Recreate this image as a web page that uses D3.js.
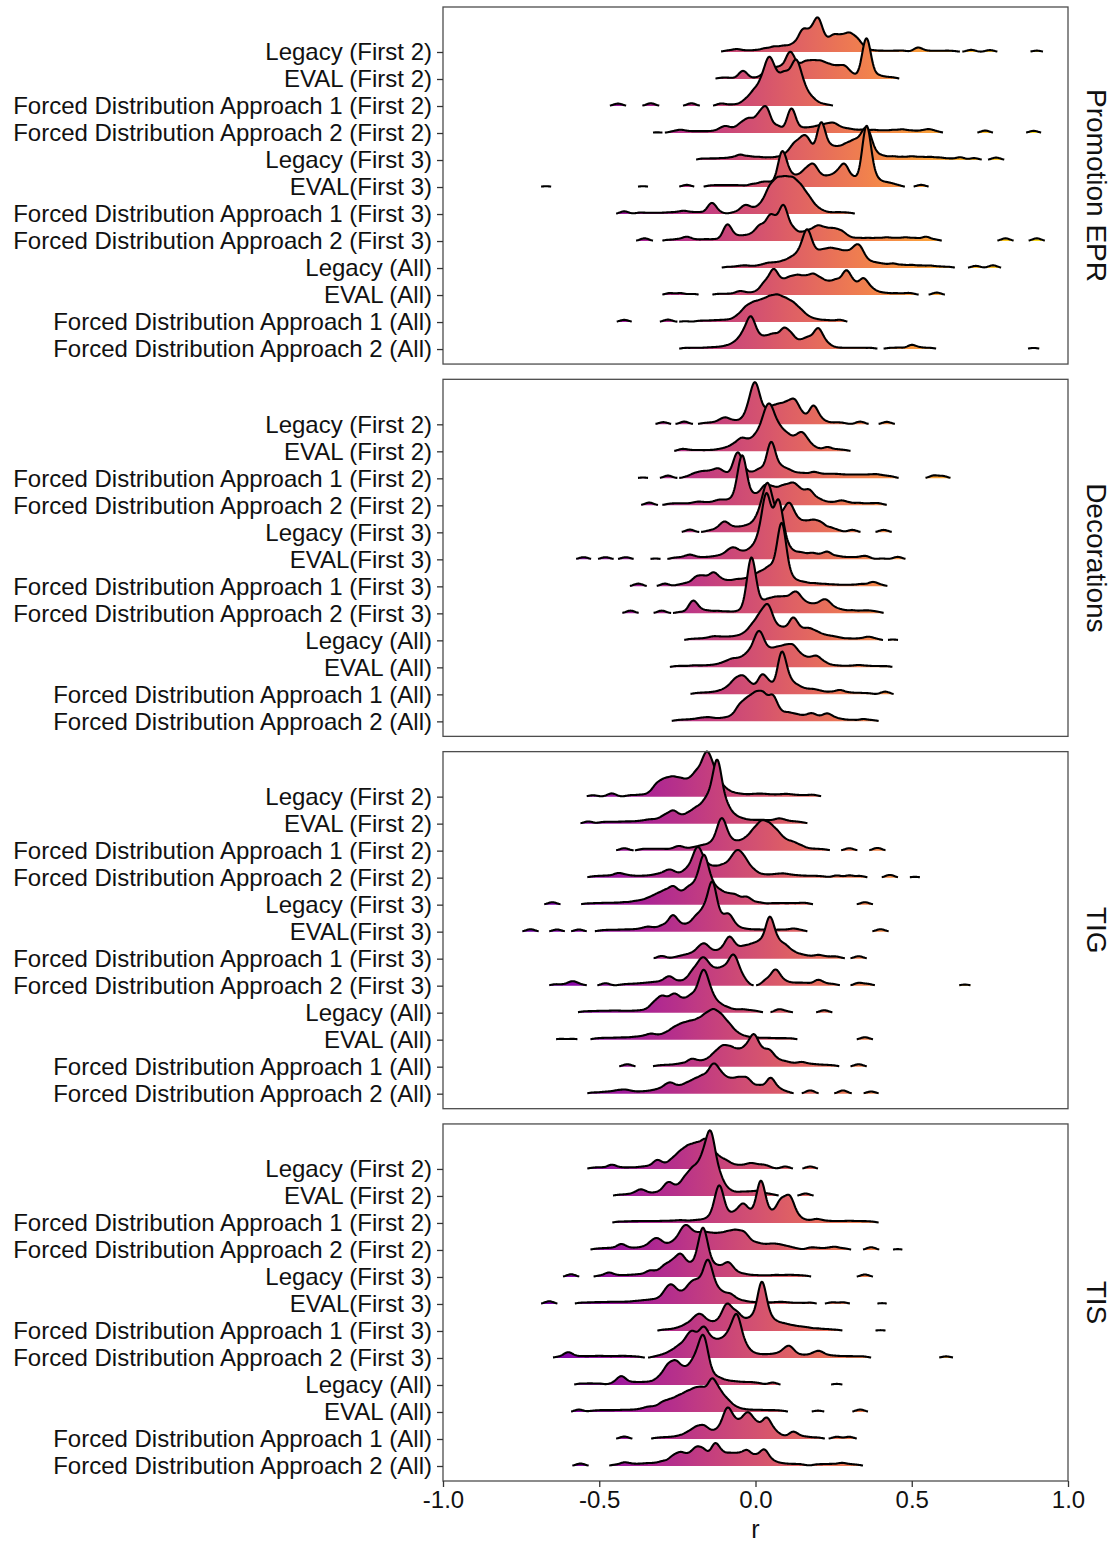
<!DOCTYPE html>
<html>
<head>
<meta charset="utf-8">
<script src="https://cdn.jsdelivr.net/npm/d3@7"></script>
<style>
  body { margin: 0; background: #fff; }
  text { font-family: "Liberation Sans", Arial, sans-serif; }
</style>
</head>
<body>
<svg id="chart"></svg>
<script>

// row labels (top to bottom inside every panel)
var groups = [
    "Legacy (First 2)", "EVAL (First 2)",
    "Forced Distribution Approach 1 (First 2)", "Forced Distribution Approach 2 (First 2)",
    "Legacy (First 3)", "EVAL(First 3)",
    "Forced Distribution Approach 1 (First 3)", "Forced Distribution Approach 2 (First 3)",
    "Legacy (All)", "EVAL (All)",
    "Forced Distribution Approach 1 (All)", "Forced Distribution Approach 2 (All)"
];
var outcomes = ["Promotion EPR", "Decorations", "TIG", "TIS"];
var xTicks = [-1.0, -0.5, 0.0, 0.5, 1.0];

// correlations r with a weight (how many studies sit there), one list per row
var eprRidges = [
    [[-0.09,.05],[-0.06,.1],[-0.03,.05],[0,.06],[0.03,.12],[0.06,.18],[0.09,.2],[0.12,.25],[0.15,.7],[0.175,.55],[0.2,1.1],[0.225,.3],[0.25,.5],[0.275,.45],[0.3,.55],[0.325,.4],[0.35,.12],[0.38,.05],[0.41,.04],[0.44,.04],[0.47,.05],[0.52,.16],[0.55,.04],[0.58,.04],[0.61,.04],[0.635,.03],[0.69,.08],[0.75,.07],[0.9,.05]],
    [[-0.11,.04],[-0.085,.04],[-0.04,.3],[0,.04],[0.03,.2],[0.055,.3],[0.08,.35],[0.11,.9],[0.135,.35],[0.16,.5],[0.185,.5],[0.21,.5],[0.235,.4],[0.26,.35],[0.285,.4],[0.31,.15],[0.355,1.5],[0.39,.12],[0.415,.06],[0.44,.05]],
    [[-0.44,.09],[-0.335,.1],[-0.205,.1],[-0.11,.09],[-0.08,.04],[-0.055,.05],[-0.03,.2],[-0.005,.45],[0.02,.7],[0.043,1.4],[0.065,.8],[0.09,.9],[0.112,.7],[0.132,1.3],[0.155,.55],[0.18,.25],[0.205,.08],[0.23,.04]],
    [[-0.315,.025],[-0.265,.05],[-0.24,.1],[-0.215,.05],[-0.19,.05],[-0.165,.05],[-0.14,.05],[-0.115,.1],[-0.095,.2],[-0.07,.12],[-0.045,.3],[-0.02,.45],[0.01,.55],[0.035,.85],[0.07,.25],[0.115,.9],[0.15,.15],[0.175,.15],[0.2,.2],[0.225,.25],[0.25,.3],[0.275,.15],[0.3,.12],[0.325,.08],[0.35,.1],[0.38,.1],[0.41,.08],[0.44,.1],[0.47,.12],[0.5,.08],[0.53,.07],[0.555,.12],[0.58,.05],[0.735,.09],[0.89,.08]],
    [[-0.17,.05],[-0.14,.05],[-0.11,.06],[-0.08,.08],[-0.05,.18],[-0.02,.12],[0.01,.1],[0.04,.08],[0.07,.1],[0.1,.2],[0.125,.5],[0.15,.6],[0.17,.55],[0.21,1.35],[0.24,.4],[0.265,.35],[0.29,.45],[0.315,.55],[0.34,.6],[0.36,.9],[0.385,.18],[0.41,.12],[0.44,.12],[0.47,.1],[0.5,.12],[0.53,.1],[0.56,.1],[0.59,.08],[0.62,.05],[0.655,.1],[0.7,.07],[0.77,.09]],
    [[-0.67,.03],[-0.36,.03],[-0.22,.08],[-0.145,.05],[-0.12,.05],[-0.095,.05],[-0.07,.05],[-0.045,.05],[-0.01,.1],[0.02,.15],[0.045,.15],[0.085,1.25],[0.11,.35],[0.135,.3],[0.16,.5],[0.185,.7],[0.21,.3],[0.235,.3],[0.26,.4],[0.285,.75],[0.315,.3],[0.355,2.2],[0.38,.3],[0.405,.15],[0.43,.12],[0.455,.06],[0.53,.08]],
    [[-0.42,.1],[-0.37,.05],[-0.34,.04],[-0.31,.04],[-0.28,.05],[-0.255,.05],[-0.23,.1],[-0.205,.05],[-0.18,.06],[-0.14,.4],[-0.115,.05],[-0.07,.05],[-0.045,.1],[-0.03,.25],[-0.005,.15],[0.02,.3],[0.045,.8],[0.07,1.0],[0.095,1.0],[0.12,1.0],[0.145,.8],[0.17,.5],[0.195,.2],[0.22,.08],[0.25,.05],[0.275,.05],[0.3,.04]],
    [[-0.355,.1],[-0.28,.04],[-0.25,.06],[-0.22,.15],[-0.19,.05],[-0.16,.06],[-0.13,.06],[-0.09,.6],[-0.06,.15],[-0.035,.15],[-0.01,.2],[0.015,.5],[0.045,.75],[0.065,.45],[0.09,1.2],[0.12,.4],[0.15,.25],[0.175,.3],[0.2,.45],[0.225,.35],[0.25,.35],[0.275,.3],[0.3,.12],[0.33,.1],[0.36,.1],[0.39,.1],[0.42,.12],[0.45,.1],[0.48,.12],[0.51,.1],[0.545,.15],[0.575,.05],[0.8,.1],[0.9,.1]],
    [[-0.09,.04],[-0.06,.05],[-0.035,.08],[-0.01,.05],[0.015,.08],[0.04,.15],[0.065,.15],[0.09,.2],[0.115,.3],[0.14,.45],[0.165,1.25],[0.19,.45],[0.215,.5],[0.24,.55],[0.265,.5],[0.29,.45],[0.315,.5],[0.335,.6],[0.36,.2],[0.385,.15],[0.41,.12],[0.44,.15],[0.47,.1],[0.5,.1],[0.53,.08],[0.56,.08],[0.59,.05],[0.62,.04],[0.705,.08],[0.76,.1]],
    [[-0.275,.07],[-0.24,.07],[-0.2,.04],[-0.12,.04],[-0.09,.04],[-0.06,.06],[-0.045,.1],[-0.02,.06],[0.005,.1],[0.03,.4],[0.058,.85],[0.085,.4],[0.11,.5],[0.135,.55],[0.16,.5],[0.185,.6],[0.21,.45],[0.235,.35],[0.26,.45],[0.29,.8],[0.315,.35],[0.345,.55],[0.37,.2],[0.395,.08],[0.42,.06],[0.45,.06],[0.48,.05],[0.5,.05],[0.58,.09]],
    [[-0.42,.08],[-0.28,.09],[-0.225,.03],[-0.18,.04],[-0.155,.04],[-0.13,.05],[-0.105,.06],[-0.08,.07],[-0.055,.2],[-0.03,.45],[-0.005,.55],[0.02,.6],[0.045,.7],[0.07,.75],[0.095,.65],[0.12,.55],[0.145,.35],[0.17,.15],[0.195,.08],[0.22,.05],[0.24,.04],[0.27,.08]],
    [[-0.225,.04],[-0.195,.04],[-0.165,.04],[-0.14,.05],[-0.115,.06],[-0.09,.1],[-0.065,.2],[-0.04,.45],[-0.015,1.05],[0.01,.35],[0.035,.35],[0.06,.45],[0.09,.65],[0.115,.45],[0.145,.25],[0.17,.35],[0.2,.7],[0.225,.2],[0.25,.06],[0.28,.04],[0.31,.04],[0.34,.04],[0.37,.04],[0.43,.04],[0.46,.05],[0.5,.15],[0.53,.05],[0.56,.04],[0.89,.04]]
];

var decorationRidges = [
    [[-0.295,.08],[-0.228,.1],[-0.165,.04],[-0.14,.05],[-0.115,.1],[-0.095,.2],[-0.07,.1],[-0.045,.12],[-0.02,.5],[0,1.3],[0.025,.35],[0.05,.5],[0.075,.55],[0.1,.6],[0.125,.75],[0.15,.3],[0.185,.65],[0.21,.15],[0.235,.05],[0.26,.05],[0.28,.04],[0.335,.1],[0.42,.09]],
    [[-0.235,.08],[-0.21,.04],[-0.18,.04],[-0.15,.04],[-0.12,.06],[-0.095,.1],[-0.07,.2],[-0.045,.4],[-0.02,.3],[0.005,.5],[0.03,1.0],[0.05,1.2],[0.075,.7],[0.1,.5],[0.125,.35],[0.148,.55],[0.17,.25],[0.195,.1],[0.23,.15],[0.26,.06],[0.285,.04]],
    [[-0.36,.03],[-0.28,.1],[-0.22,.05],[-0.195,.15],[-0.17,.2],[-0.145,.2],[-0.12,.3],[-0.095,.15],[-0.058,.9],[-0.035,.2],[-0.01,.15],[0.015,.3],[0.05,1.3],[0.08,.35],[0.105,.25],[0.13,.15],[0.155,.15],[0.185,.2],[0.21,.12],[0.235,.12],[0.26,.12],[0.285,.1],[0.31,.1],[0.335,.1],[0.36,.1],[0.385,.12],[0.41,.08],[0.435,.06],[0.57,.1],[0.6,.08]],
    [[-0.34,.1],[-0.276,.05],[-0.25,.06],[-0.225,.05],[-0.2,.06],[-0.18,.1],[-0.155,.08],[-0.13,.1],[-0.11,.15],[-0.085,.15],[-0.06,.25],[-0.042,1.7],[-0.015,.25],[0.005,.25],[0.03,.6],[0.055,.5],[0.08,.45],[0.1,.45],[0.122,.6],[0.145,.4],[0.172,.5],[0.2,.2],[0.225,.1],[0.25,.08],[0.275,.15],[0.3,.08],[0.33,.08],[0.36,.06],[0.385,.05],[0.4,.04]],
    [[-0.21,.1],[-0.15,.05],[-0.125,.1],[-0.1,.35],[-0.075,.15],[-0.05,.15],[-0.025,.2],[0,.3],[0.02,.6],[0.04,1.5],[0.065,.5],[0.09,.45],[0.11,.85],[0.135,.35],[0.16,.3],[0.185,.35],[0.21,.3],[0.24,.15],[0.265,.06],[0.31,.09],[0.41,.09]],
    [[-0.55,.08],[-0.48,.08],[-0.415,.08],[-0.32,.03],[-0.26,.05],[-0.235,.06],[-0.21,.15],[-0.185,.06],[-0.16,.06],[-0.135,.08],[-0.11,.12],[-0.085,.25],[-0.065,.3],[-0.04,.2],[-0.015,.3],[0.01,.6],[0.035,2.2],[0.06,.5],[0.075,1.8],[0.1,.4],[0.125,.2],[0.15,.2],[0.18,.2],[0.205,.12],[0.23,.25],[0.26,.1],[0.285,.06],[0.31,.06],[0.335,.06],[0.355,.1],[0.405,.03],[0.455,.09]],
    [[-0.375,.1],[-0.29,.1],[-0.245,.05],[-0.22,.1],[-0.19,.3],[-0.165,.3],[-0.135,.45],[-0.11,.2],[-0.085,.15],[-0.06,.2],[-0.035,.2],[-0.01,.3],[0.015,.4],[0.04,.5],[0.06,.4],[0.084,2.2],[0.11,.3],[0.135,.15],[0.16,.12],[0.19,.1],[0.22,.08],[0.25,.06],[0.28,.05],[0.31,.05],[0.34,.08],[0.375,.15],[0.4,.05]],
    [[-0.4,.1],[-0.3,.1],[-0.24,.05],[-0.2,.45],[-0.175,.1],[-0.15,.08],[-0.12,.08],[-0.09,.06],[-0.06,.06],[-0.035,.1],[-0.013,2.0],[0.015,.3],[0.04,.4],[0.065,.45],[0.09,.45],[0.115,.45],[0.135,.55],[0.16,.3],[0.185,.25],[0.21,.3],[0.23,.35],[0.255,.15],[0.28,.1],[0.31,.1],[0.34,.08],[0.365,.08],[0.39,.05]],
    [[-0.21,.04],[-0.185,.05],[-0.16,.06],[-0.135,.12],[-0.11,.1],[-0.085,.1],[-0.06,.12],[-0.035,.2],[-0.01,.45],[0.015,.75],[0.04,1.1],[0.065,.4],[0.09,.35],[0.12,.75],[0.145,.3],[0.17,.35],[0.195,.25],[0.22,.15],[0.245,.12],[0.27,.08],[0.3,.06],[0.33,.06],[0.36,.12],[0.385,.05],[0.44,.03]],
    [[-0.255,.04],[-0.23,.04],[-0.2,.06],[-0.175,.05],[-0.15,.06],[-0.125,.08],[-0.1,.15],[-0.075,.25],[-0.05,.25],[-0.025,.4],[0,.7],[0.018,.9],[0.045,.5],[0.07,.55],[0.095,.6],[0.12,.65],[0.145,.35],[0.17,.25],[0.195,.35],[0.22,.15],[0.245,.06],[0.27,.05],[0.3,.05],[0.33,.08],[0.36,.05],[0.39,.04],[0.42,.04]],
    [[-0.19,.04],[-0.165,.05],[-0.14,.06],[-0.115,.1],[-0.09,.2],[-0.065,.45],[-0.04,.55],[-0.015,.3],[0.02,.65],[0.045,.35],[0.084,1.5],[0.11,.4],[0.135,.25],[0.16,.15],[0.185,.15],[0.21,.1],[0.24,.08],[0.27,.15],[0.3,.06],[0.33,.05],[0.36,.04],[0.415,.1]],
    [[-0.25,.04],[-0.225,.05],[-0.2,.06],[-0.175,.1],[-0.15,.12],[-0.125,.08],[-0.1,.1],[-0.075,.15],[-0.05,.5],[-0.025,.65],[0,.8],[0.025,.85],[0.055,.85],[0.08,.25],[0.105,.25],[0.13,.2],[0.155,.15],[0.18,.25],[0.205,.12],[0.23,.25],[0.255,.1],[0.28,.06],[0.31,.05],[0.345,.08],[0.375,.04]]
];

var tigRidges = [
    [[-0.52,.05],[-0.46,.12],[-0.4,.05],[-0.37,.06],[-0.34,.1],[-0.315,.4],[-0.29,.5],[-0.265,.55],[-0.24,.5],[-0.215,.45],[-0.19,.7],[-0.165,.9],[-0.148,1.0],[-0.125,.6],[-0.1,.25],[-0.075,.12],[-0.05,.08],[-0.025,.06],[0,.08],[0.025,.08],[0.05,.06],[0.075,.06],[0.1,.08],[0.125,.05],[0.15,.04],[0.175,.04],[0.19,.04]],
    [[-0.535,.08],[-0.49,.05],[-0.465,.05],[-0.44,.05],[-0.415,.06],[-0.39,.06],[-0.365,.08],[-0.34,.12],[-0.315,.12],[-0.29,.25],[-0.264,.4],[-0.24,.2],[-0.215,.3],[-0.19,.45],[-0.165,.55],[-0.145,.65],[-0.122,2.1],[-0.095,.6],[-0.07,.25],[-0.045,.15],[-0.02,.1],[0.005,.1],[0.03,.1],[0.055,.08],[0.077,.15],[0.1,.08],[0.125,.06],[0.148,.04]],
    [[-0.42,.09],[-0.36,.06],[-0.33,.06],[-0.3,.06],[-0.27,.05],[-0.245,.15],[-0.22,.06],[-0.195,.1],[-0.17,.15],[-0.145,.2],[-0.12,.4],[-0.105,.9],[-0.08,.3],[-0.055,.25],[-0.03,.35],[-0.005,.6],[0.02,.85],[0.045,.75],[0.07,.55],[0.095,.3],[0.12,.25],[0.145,.15],[0.17,.06],[0.195,.05],[0.22,.04],[0.3,.09],[0.39,.1]],
    [[-0.52,.04],[-0.495,.05],[-0.47,.06],[-0.44,.15],[-0.415,.08],[-0.39,.05],[-0.365,.05],[-0.34,.06],[-0.315,.1],[-0.29,.15],[-0.27,.22],[-0.245,.1],[-0.22,.25],[-0.195,.5],[-0.18,.75],[-0.155,.35],[-0.13,.3],[-0.105,.35],[-0.08,.45],[-0.058,.75],[-0.035,.55],[-0.01,.25],[0.015,.1],[0.04,.08],[0.065,.1],[0.09,.12],[0.115,.08],[0.14,.06],[0.165,.05],[0.19,.05],[0.215,.04],[0.26,.08],[0.3,.08],[0.335,.06],[0.43,.1],[0.51,.03]],
    [[-0.65,.09],[-0.54,.04],[-0.51,.05],[-0.48,.06],[-0.45,.06],[-0.42,.08],[-0.39,.1],[-0.365,.12],[-0.34,.2],[-0.315,.3],[-0.29,.4],[-0.264,.55],[-0.24,.3],[-0.215,.5],[-0.19,.6],[-0.165,1.6],[-0.14,.6],[-0.115,.4],[-0.09,.3],[-0.065,.3],[-0.04,.12],[-0.025,.2],[0,.06],[0.02,.05],[0.055,.05],[0.085,.05],[0.115,.05],[0.145,.05],[0.165,.04],[0.35,.09]],
    [[-0.72,.09],[-0.635,.08],[-0.565,.08],[-0.495,.04],[-0.47,.05],[-0.445,.05],[-0.42,.06],[-0.395,.06],[-0.37,.08],[-0.345,.15],[-0.32,.1],[-0.295,.2],[-0.265,.55],[-0.24,.2],[-0.215,.2],[-0.19,.45],[-0.165,.65],[-0.138,1.7],[-0.11,.4],[-0.085,.55],[-0.06,.15],[-0.035,.08],[-0.01,.06],[0.015,.06],[0.04,.05],[0.065,.05],[0.09,.06],[0.12,.1],[0.145,.05],[0.4,.09]],
    [[-0.3,.1],[-0.255,.05],[-0.23,.1],[-0.205,.15],[-0.18,.3],[-0.16,.4],[-0.135,.2],[-0.11,.25],[-0.084,.7],[-0.06,.3],[-0.035,.35],[-0.01,.4],[0.015,.5],[0.045,1.4],[0.07,.5],[0.095,.4],[0.12,.2],[0.145,.12],[0.17,.08],[0.2,.12],[0.225,.06],[0.25,.05],[0.265,.04],[0.33,.09]],
    [[-0.64,.05],[-0.61,.04],[-0.585,.15],[-0.56,.04],[-0.48,.09],[-0.425,.04],[-0.4,.05],[-0.375,.06],[-0.35,.08],[-0.325,.1],[-0.3,.12],[-0.276,.3],[-0.25,.12],[-0.225,.15],[-0.2,.45],[-0.175,.7],[-0.155,.6],[-0.13,.45],[-0.105,.5],[-0.08,.6],[-0.064,.7],[-0.04,.25],[0.035,.2],[0.064,.55],[0.09,.15],[0.115,.08],[0.14,.08],[0.165,.08],[0.2,.2],[0.225,.06],[0.25,.05],[0.33,.1],[0.36,.06],[0.67,.04]],
    [[-0.55,.04],[-0.525,.04],[-0.5,.05],[-0.475,.05],[-0.45,.06],[-0.425,.05],[-0.4,.05],[-0.375,.06],[-0.35,.08],[-0.325,.3],[-0.3,.5],[-0.275,.35],[-0.255,.5],[-0.23,.35],[-0.205,.5],[-0.18,.6],[-0.163,1.15],[-0.14,.5],[-0.115,.25],[-0.09,.15],[-0.065,.08],[-0.04,.1],[-0.015,.06],[0.005,.04],[0.075,.12],[0.1,.04],[0.22,.09]],
    [[-0.623,.03],[-0.585,.03],[-0.51,.04],[-0.485,.05],[-0.46,.05],[-0.435,.06],[-0.41,.06],[-0.385,.08],[-0.36,.1],[-0.335,.18],[-0.31,.12],[-0.285,.2],[-0.26,.35],[-0.235,.45],[-0.21,.5],[-0.185,.55],[-0.16,.7],[-0.135,.85],[-0.11,.7],[-0.085,.45],[-0.06,.2],[-0.035,.1],[-0.01,.06],[0.015,.05],[0.04,.05],[0.065,.04],[0.09,.04],[0.115,.04],[0.35,.09]],
    [[-0.41,.09],[-0.31,.04],[-0.285,.05],[-0.26,.06],[-0.235,.1],[-0.205,.25],[-0.18,.15],[-0.155,.2],[-0.13,.4],[-0.105,.6],[-0.08,.55],[-0.055,.45],[-0.03,.55],[-0.005,1.0],[0.02,.45],[0.045,.5],[0.07,.2],[0.095,.15],[0.12,.1],[0.148,.15],[0.175,.08],[0.2,.06],[0.225,.05],[0.25,.04],[0.33,.09]],
    [[-0.52,.04],[-0.49,.05],[-0.465,.06],[-0.44,.1],[-0.415,.12],[-0.39,.06],[-0.365,.06],[-0.34,.08],[-0.315,.12],[-0.29,.2],[-0.27,.3],[-0.245,.2],[-0.22,.3],[-0.195,.4],[-0.17,.5],[-0.145,.55],[-0.128,.7],[-0.105,.5],[-0.08,.4],[-0.055,.45],[-0.03,.45],[-0.01,.2],[0.015,.25],[0.048,.55],[0.075,.15],[0.1,.06],[0.175,.12],[0.28,.12],[0.37,.08]]
];

var tisRidges = [
    [[-0.52,.04],[-0.495,.05],[-0.46,.15],[-0.43,.05],[-0.4,.05],[-0.37,.06],[-0.345,.08],[-0.315,.3],[-0.29,.12],[-0.265,.3],[-0.24,.5],[-0.215,.65],[-0.19,.7],[-0.165,.75],[-0.145,.6],[-0.12,.35],[-0.095,.25],[-0.07,.12],[-0.045,.1],[-0.02,.15],[0,.12],[0.025,.12],[0.045,.05],[0.095,.09],[0.175,.09]],
    [[-0.437,.04],[-0.41,.05],[-0.385,.08],[-0.365,.2],[-0.34,.08],[-0.315,.1],[-0.29,.2],[-0.275,.35],[-0.25,.25],[-0.225,.55],[-0.2,.8],[-0.175,.9],[-0.155,1.0],[-0.14,1.6],[-0.115,.6],[-0.09,.2],[-0.065,.1],[-0.04,.12],[-0.015,.12],[0.01,.15],[0.035,.06],[0.055,.04],[0.16,.09]],
    [[-0.44,.04],[-0.415,.04],[-0.39,.05],[-0.365,.05],[-0.34,.05],[-0.315,.05],[-0.29,.06],[-0.265,.06],[-0.24,.08],[-0.215,.06],[-0.19,.08],[-0.165,.1],[-0.14,.2],[-0.116,1.3],[-0.09,.25],[-0.065,.3],[-0.04,.6],[-0.015,.3],[0.017,1.5],[0.045,.3],[0.07,.3],[0.085,.6],[0.11,.85],[0.135,.2],[0.16,.08],[0.185,.06],[0.2,.1],[0.225,.06],[0.25,.05],[0.275,.05],[0.3,.06],[0.325,.05],[0.35,.05],[0.375,.04]],
    [[-0.51,.04],[-0.485,.05],[-0.46,.06],[-0.43,.2],[-0.405,.06],[-0.38,.06],[-0.355,.1],[-0.33,.25],[-0.31,.3],[-0.285,.15],[-0.26,.25],[-0.235,.55],[-0.215,.6],[-0.19,.45],[-0.165,.5],[-0.14,.45],[-0.115,.45],[-0.09,.5],[-0.065,.55],[-0.04,.5],[-0.02,.25],[0.005,.2],[0.03,.15],[0.055,.18],[0.08,.15],[0.105,.1],[0.13,.05],[0.175,.08],[0.2,.06],[0.23,.06],[0.255,.1],[0.285,.05],[0.37,.1],[0.455,.03]],
    [[-0.59,.1],[-0.5,.04],[-0.47,.15],[-0.445,.05],[-0.42,.05],[-0.395,.06],[-0.37,.08],[-0.34,.2],[-0.315,.15],[-0.29,.35],[-0.265,.45],[-0.24,.7],[-0.215,.35],[-0.19,.4],[-0.168,1.6],[-0.145,.4],[-0.12,.3],[-0.095,.3],[-0.08,.3],[-0.055,.12],[-0.03,.08],[0,.06],[0.03,.05],[0.06,.06],[0.085,.05],[0.11,.06],[0.135,.05],[0.16,.04],[0.35,.09]],
    [[-0.66,.1],[-0.56,.04],[-0.535,.04],[-0.51,.05],[-0.485,.05],[-0.46,.06],[-0.435,.06],[-0.41,.06],[-0.385,.08],[-0.36,.1],[-0.335,.12],[-0.31,.15],[-0.285,.4],[-0.265,.5],[-0.24,.3],[-0.215,.45],[-0.195,.55],[-0.175,.5],[-0.152,1.4],[-0.128,.45],[-0.105,.3],[-0.08,.3],[-0.055,.12],[-0.03,.08],[0,.06],[0.03,.05],[0.06,.05],[0.085,.06],[0.11,.04],[0.14,.04],[0.175,.05],[0.245,.06],[0.28,.06],[0.405,.03]],
    [[-0.295,.04],[-0.27,.05],[-0.245,.1],[-0.22,.2],[-0.195,.35],[-0.174,.45],[-0.15,.25],[-0.125,.25],[-0.1,.5],[-0.085,.6],[-0.06,.55],[-0.035,.3],[-0.01,.4],[0.02,1.7],[0.045,.4],[0.07,.25],[0.095,.2],[0.12,.15],[0.145,.12],[0.17,.1],[0.2,.08],[0.23,.06],[0.26,.04],[0.4,.03]],
    [[-0.63,.04],[-0.6,.2],[-0.575,.05],[-0.55,.05],[-0.525,.05],[-0.5,.06],[-0.475,.05],[-0.45,.05],[-0.425,.06],[-0.4,.05],[-0.375,.04],[-0.32,.05],[-0.295,.1],[-0.27,.2],[-0.245,.35],[-0.22,.5],[-0.2,.7],[-0.175,.55],[-0.16,.7],[-0.135,.5],[-0.11,.5],[-0.085,.7],[-0.06,1.4],[-0.035,.4],[-0.01,.15],[0.015,.1],[0.04,.1],[0.065,.12],[0.09,.2],[0.11,.35],[0.135,.1],[0.16,.08],[0.185,.12],[0.205,.2],[0.23,.08],[0.255,.06],[0.28,.05],[0.305,.05],[0.33,.04],[0.35,.04],[0.61,.06]],
    [[-0.56,.05],[-0.53,.05],[-0.5,.05],[-0.456,.06],[-0.43,.3],[-0.405,.08],[-0.38,.08],[-0.355,.08],[-0.33,.1],[-0.305,.25],[-0.28,.6],[-0.255,.7],[-0.23,.45],[-0.205,.55],[-0.185,.7],[-0.165,1.5],[-0.14,.3],[-0.115,.2],[-0.09,.12],[-0.065,.1],[-0.04,.08],[-0.015,.08],[0.01,.06],[0.055,.09],[0.26,.04]],
    [[-0.565,.09],[-0.52,.04],[-0.495,.05],[-0.47,.05],[-0.445,.05],[-0.42,.06],[-0.395,.06],[-0.37,.08],[-0.345,.15],[-0.32,.15],[-0.295,.3],[-0.27,.35],[-0.245,.45],[-0.22,.55],[-0.195,.65],[-0.17,.7],[-0.14,1.05],[-0.115,.6],[-0.09,.35],[-0.065,.15],[-0.04,.08],[-0.015,.06],[0.01,.06],[0.035,.05],[0.06,.05],[0.085,.04],[0.2,.05],[0.335,.09]],
    [[-0.42,.09],[-0.315,.04],[-0.29,.05],[-0.265,.06],[-0.24,.1],[-0.215,.2],[-0.19,.35],[-0.165,.4],[-0.14,.2],[-0.115,.3],[-0.09,1.0],[-0.065,.5],[-0.04,.5],[-0.02,.7],[0.005,.45],[0.035,.7],[0.06,.25],[0.085,.1],[0.12,.25],[0.145,.08],[0.17,.06],[0.2,.05],[0.26,.08],[0.3,.08]],
    [[-0.56,.09],[-0.45,.04],[-0.42,.12],[-0.395,.06],[-0.37,.06],[-0.345,.08],[-0.32,.08],[-0.295,.15],[-0.265,.3],[-0.24,.4],[-0.215,.3],[-0.19,.55],[-0.165,.5],[-0.13,.75],[-0.105,.35],[-0.08,.35],[-0.055,.35],[-0.028,.5],[0,.3],[0.028,.55],[0.055,.15],[0.08,.08],[0.105,.06],[0.13,.05],[0.15,.04],[0.195,.05],[0.22,.05],[0.245,.06],[0.275,.1],[0.3,.05],[0.325,.04]]
];

var panels = [eprRidges, decorationRidges, tigRidges, tisRidges];

// Set the dimensions of the page
var width = 1117, height = 1547;
var bandwidth = 0.014,   // kernel bandwidth in r
    minHeight = 0.015;   // density below this is not drawn (gaps / dashes)

var svg = d3.select("#chart")
    .attr("width", width)
    .attr("height", height);

var x = d3.scaleLinear().domain([-1, 1]).range([443, 1068]);

var panelScale = d3.scaleBand()
    .domain(outcomes)
    .range([7, 1481])
    .paddingInner(0.041);

// fill colour follows r, like a gradient fill
function fillColor(r) {
    var t = Math.max(0.05, Math.min(0.95, 0.535 + 0.44 * r));
    return d3.interpolatePlasma(t);
}

var grad = svg.append("defs").append("linearGradient")
    .attr("id", "rgrad")
    .attr("gradientUnits", "userSpaceOnUse")
    .attr("x1", x(-1)).attr("x2", x(1))
    .attr("y1", 0).attr("y2", 0);
grad.selectAll("stop")
    .data(d3.range(-1, 1.001, 0.05))
    .enter().append("stop")
    .attr("offset", function (d) { return (d + 1) / 2; })
    .attr("stop-color", function (d) { return fillColor(d); });

var grid = d3.range(-1, 1.0001, 0.002);

// kernel density over the weighted r values, split where it falls under minHeight
function ridgeSegments(obs) {
    var segs = [], cur = null;
    grid.forEach(function (g) {
        var dens = d3.sum(obs, function (o) {
            var z = (g - o[0]) / bandwidth;
            return o[1] * Math.exp(-0.5 * z * z);
        });
        if (dens >= minHeight) {
            if (!cur) { cur = []; segs.push(cur); }
            cur.push([g, dens]);
        } else {
            cur = null;
        }
    });
    return segs;
}

panels.forEach(function (ridges, p) {
    var top = panelScale(outcomes[p]),
        ph = panelScale.bandwidth();

    var y = d3.scalePoint()
        .domain(groups)
        .range([top + 45, top + ph - 15]);
    var step = y.step();

    var g = svg.append("g").attr("class", "panel");

    ridges.forEach(function (obs, i) {
        var base = y(groups[i]);
        var segs = ridgeSegments(obs);

        var area = d3.area()
            .x(function (d) { return x(d[0]); })
            .y0(base)
            .y1(function (d) { return base - d[1] * step; });
        var line = d3.line()
            .x(function (d) { return x(d[0]); })
            .y(function (d) { return base - d[1] * step; });

        var rg = g.append("g").attr("class", "ridge");
        rg.selectAll("path.area")
            .data(segs)
            .enter().append("path")
            .attr("class", "area")
            .attr("d", area)
            .attr("fill", "url(#rgrad)");
        rg.selectAll("path.line")
            .data(segs)
            .enter().append("path")
            .attr("class", "line")
            .attr("d", line)
            .attr("fill", "none")
            .attr("stroke", "#000")
            .attr("stroke-width", 2.1)
            .attr("stroke-linejoin", "round")
            .attr("stroke-linecap", "butt");
    });

    // panel border
    g.append("rect")
        .attr("x", x(-1)).attr("y", top)
        .attr("width", x(1) - x(-1)).attr("height", ph)
        .attr("fill", "none")
        .attr("stroke", "#4d4d4d")
        .attr("stroke-width", 1.3);

    // y axis with the row names
    var yAxis = g.append("g")
        .attr("transform", "translate(" + x(-1) + ",0)")
        .call(d3.axisLeft(y).tickSize(6).tickPadding(5));
    yAxis.select(".domain").remove();
    yAxis.selectAll("line").attr("stroke", "#333").attr("stroke-width", 1.3);
    yAxis.selectAll("text")
        .attr("fill", "#111")
        .style("font-size", "24px");

    // strip label at the right
    g.append("text")
        .attr("transform", "translate(1096," + (top + ph / 2) + ") rotate(90)")
        .attr("text-anchor", "middle")
        .attr("dominant-baseline", "central")
        .attr("fill", "#111")
        .style("font-size", "28px")
        .text(outcomes[p]);

    if (p === panels.length - 1) {
        var xAxis = g.append("g")
            .attr("transform", "translate(0," + (top + ph) + ")")
            .call(d3.axisBottom(x)
                .tickValues(xTicks)
                .tickSize(6)
                .tickPadding(4)
                .tickFormat(function (d) { return d.toFixed(1); }));
        xAxis.select(".domain").remove();
        xAxis.selectAll("line").attr("stroke", "#333").attr("stroke-width", 1.3);
        xAxis.selectAll("text")
            .attr("fill", "#111")
            .style("font-size", "24px");

        svg.append("text")
            .attr("x", x(0))
            .attr("y", top + ph + 57)
            .attr("text-anchor", "middle")
            .attr("fill", "#111")
            .style("font-size", "25px")
            .text("r");
    }
});

</script>
</body>
</html>
